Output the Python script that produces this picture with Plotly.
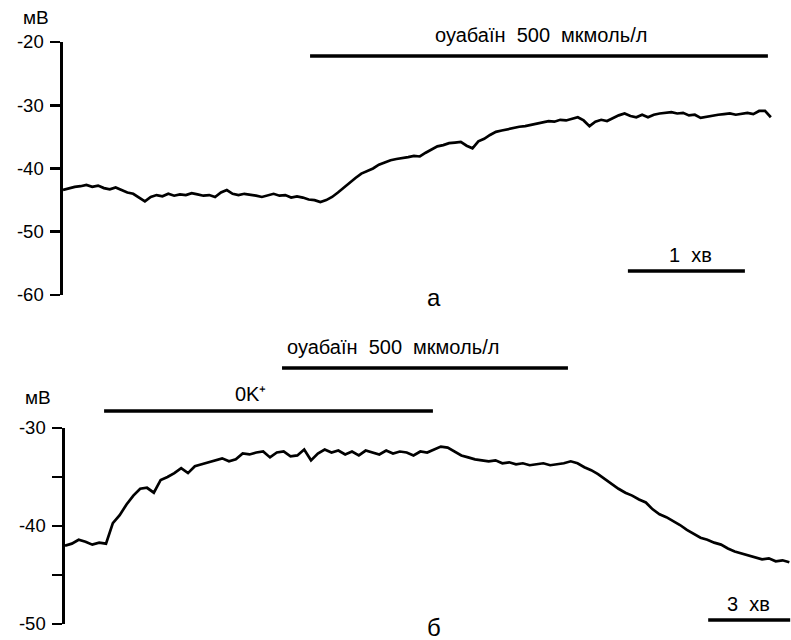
import plotly.graph_objects as go

# ---------------- data ----------------
# Panel a: membrane potential (mV), sampled every 3 s
dt_a = 3.0
v_a = [-43.4, -43.1, -42.9, -42.8, -42.6, -42.9, -42.7, -43.1, -43.3, -43.0,
       -43.4, -43.8, -44.0, -44.6, -45.2, -44.5, -44.2, -44.4, -44.0, -44.3,
       -44.1, -44.2, -43.9, -44.1, -44.3, -44.2, -44.5, -43.8, -43.4, -44.0,
       -44.2, -44.0, -44.1, -44.3, -44.5, -44.2, -44.0, -44.3, -44.2, -44.6,
       -44.4, -44.6, -44.9, -45.0, -45.3, -45.0, -44.5, -43.8, -43.0, -42.3,
       -41.5, -40.8, -40.4, -40.0, -39.4, -39.0, -38.7, -38.5, -38.4, -38.2,
       -38.0, -38.1, -37.5, -37.0, -36.5, -36.3, -36.0, -35.9, -35.8, -36.4,
       -36.8, -35.7, -35.3, -34.7, -34.2, -34.0, -33.8, -33.5, -33.4, -33.3,
       -33.1, -32.9, -32.8, -32.5, -32.6, -32.3, -32.4, -32.1, -31.9, -32.4,
       -33.3, -32.6, -32.3, -32.5, -32.0, -31.6, -31.3, -31.7, -31.9, -31.5,
       -31.9, -31.5, -31.3, -31.2, -31.1, -31.3, -31.2, -31.6, -31.5, -32.0,
       -31.8, -31.6, -31.5, -31.4, -31.3, -31.5, -31.4, -31.2, -31.4, -30.9,
       -30.9, -31.9]
t_a = [round(i * dt_a, 1) for i in range(len(v_a))]

# Panel b: membrane potential (mV), sampled every 0.25 min
dt_b = 0.25
v_b = [-42.0, -41.8, -41.4, -41.6, -41.9, -41.7, -41.8, -39.7, -38.9, -37.8,
       -36.9, -36.2, -36.1, -36.6, -35.3, -35.0, -34.6, -34.1, -34.6, -33.9,
       -33.7, -33.5, -33.3, -33.1, -33.4, -33.2, -32.6, -32.7, -32.5, -32.4,
       -33.0, -32.5, -32.4, -32.9, -32.8, -32.2, -33.3, -32.6, -32.2, -32.5,
       -32.3, -32.7, -32.4, -32.8, -32.3, -32.5, -32.7, -32.3, -32.6, -32.4,
       -32.5, -32.8, -32.4, -32.5, -32.2, -31.9, -32.0, -32.4, -32.8, -33.0,
       -33.2, -33.3, -33.4, -33.3, -33.6, -33.5, -33.7, -33.6, -33.8, -33.7,
       -33.6, -33.8, -33.7, -33.6, -33.4, -33.6, -34.0, -34.3, -34.7, -35.2,
       -35.7, -36.2, -36.6, -36.9, -37.3, -37.6, -38.3, -38.8, -39.1, -39.5,
       -39.9, -40.4, -40.8, -41.2, -41.4, -41.7, -41.9, -42.3, -42.6, -42.8,
       -43.0, -43.2, -43.4, -43.3, -43.6, -43.5, -43.7]
t_b = [round(i * dt_b, 2) for i in range(len(v_b))]

ticks_a = [-60, -50, -40, -30, -20]
ticks_b = [-50, -45, -40, -35, -30]
ticklabels_b = ["-50", "", "-40", "", "-30"]

# drug application periods
ouab_a = [126.7, 361.5]       # s
ouab_b = [7.94, 18.40]        # min
k0_b = [1.43, 13.46]          # min
scale_a = [289.7, 349.7]      # 1 min
scale_b = [23.53, 26.53]      # 3 min

FONT = "Liberation Sans, Arial, sans-serif"
SP = " \u00a0"   # wide word gap as in the original
OUAB = SP.join(["оуабаїн", "500", "мкмоль/л"])

fig = go.Figure()
fig.add_trace(go.Scatter(x=t_a, y=v_a, mode="lines", xaxis="x", yaxis="y",
                         line=dict(color="black", width=2.7), showlegend=False))
fig.add_trace(go.Scatter(x=t_b, y=v_b, mode="lines", xaxis="x2", yaxis="y2",
                         line=dict(color="black", width=2.7), showlegend=False))

yax_common = dict(showline=True, linecolor="black", linewidth=2.6,
                  ticks="outside", ticklen=10, tickwidth=2.6, tickcolor="black",
                  showgrid=False, zeroline=False, ticklabelstandoff=3,
                  automargin=False,
                  tickfont=dict(family=FONT, size=18.5, color="black"))

fig.update_layout(
    width=791, height=640,
    margin=dict(l=0, r=0, t=0, b=0, pad=0, autoexpand=False),
    paper_bgcolor="white", plot_bgcolor="white",
    font=dict(family=FONT, size=20, color="black"),
    xaxis=dict(domain=[63 / 791, 780 / 791], range=[0, 367.7], visible=False,
               anchor="y", automargin=False),
    yaxis=dict(domain=[1 - 295 / 640, 1 - 42 / 640], range=[-60, -20],
               tickvals=ticks_a, ticktext=[str(v) for v in ticks_a],
               anchor="x", **yax_common),
    xaxis2=dict(domain=[65 / 791, 1.0], range=[0, 26.56], visible=False,
                anchor="y2", automargin=False),
    yaxis2=dict(domain=[1 - 624 / 640, 1 - 428 / 640], range=[-50, -30],
                tickvals=ticks_b, ticktext=ticklabels_b,
                anchor="x2", **yax_common),
)

bar = dict(color="black", width=3.5)
shapes = [
    dict(type="line", xref="x", yref="y", x0=ouab_a[0], x1=ouab_a[1],
         y0=-22.2, y1=-22.2, line=bar),
    dict(type="line", xref="x", yref="y", x0=scale_a[0], x1=scale_a[1],
         y0=-56.2, y1=-56.2, line=bar),
    dict(type="line", xref="x2", yref="paper", x0=ouab_b[0], x1=ouab_b[1],
         y0=1 - 368 / 640, y1=1 - 368 / 640, line=bar),
    dict(type="line", xref="x2", yref="paper", x0=k0_b[0], x1=k0_b[1],
         y0=1 - 411 / 640, y1=1 - 411 / 640, line=bar),
    dict(type="line", xref="x2", yref="y2", x0=scale_b[0], x1=scale_b[1],
         y0=-49.6, y1=-49.6, line=bar),
]
fig.update_layout(shapes=shapes)

ann = [
    dict(text="мВ", xref="paper", yref="paper", x=36 / 791, y=1 - 17 / 640,
         font=dict(size=19)),
    dict(text=OUAB, xref="x", yref="paper",
         x=(ouab_a[0] + ouab_a[1]) / 2 + 1, y=1 - 35 / 640),
    dict(text="1" + SP + "хв", xref="x", yref="y",
         x=(scale_a[0] + scale_a[1]) / 2 + 2, y=-53.6),
    dict(text="а", xref="paper", yref="paper", x=434 / 791, y=1 - 297 / 640,
         font=dict(size=24)),
    dict(text="мВ", xref="paper", yref="paper", x=38 / 791, y=1 - 397 / 640,
         font=dict(size=19)),
    dict(text=OUAB, xref="x2", yref="paper", x=12.0, y=1 - 347 / 640),
    dict(text="0K⁺", xref="x2", yref="paper", x=6.77, y=1 - 394 / 640),
    dict(text="3" + SP + "хв", xref="x2", yref="y2", x=25.0, y=-48.0),
    dict(text="б", xref="paper", yref="paper", x=434 / 791, y=1 - 627 / 640,
         font=dict(size=24)),
]
for a in ann:
    a.setdefault("showarrow", False)
    a.setdefault("xanchor", "center")
    a.setdefault("yanchor", "middle")
    fig.add_annotation(**a)

fig.write_html("out.html",
               config={"displayModeBar": False, "staticPlot": True},
               post_script="document.body.style.margin='0';"
                           "document.body.style.overflow='hidden';")
